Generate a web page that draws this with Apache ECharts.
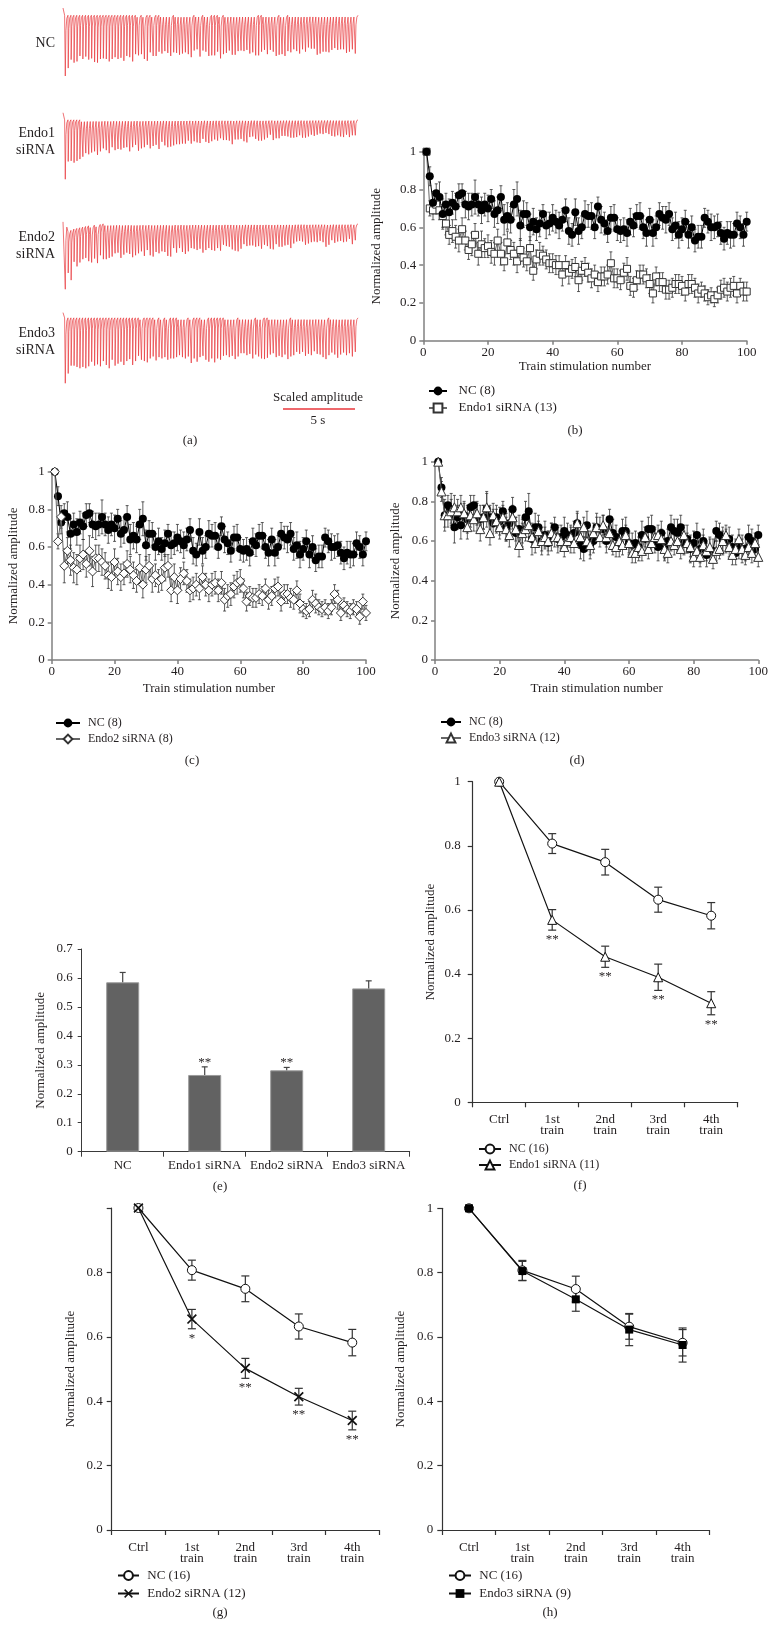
<!DOCTYPE html>
<html><head><meta charset="utf-8">
<script src="https://cdn.jsdelivr.net/npm/echarts@6/dist/echarts.min.js"></script>
<style>html,body{margin:0;padding:0;background:#fff}#c{width:776px;height:1629px}</style>
</head><body><div id="c"></div><script>
// ---------- DATA ----------
const ncMean = [1.00,0.87,0.73,0.78,0.76,0.67,0.72,0.68,0.73,0.71,
 0.77,0.78,0.72,0.71,0.72,0.76,0.72,0.69,0.72,0.70,
 0.75,0.67,0.69,0.76,0.64,0.66,0.64,0.72,0.75,0.61,
 0.67,0.67,0.60,0.63,0.59,0.62,0.67,0.61,0.62,0.65,
 0.63,0.61,0.64,0.69,0.58,0.56,0.68,0.58,0.60,0.67,
 0.66,0.66,0.60,0.71,0.64,0.62,0.58,0.65,0.65,0.59,
 0.58,0.59,0.57,0.63,0.61,0.66,0.66,0.60,0.57,0.64,
 0.57,0.60,0.67,0.65,0.64,0.67,0.59,0.61,0.56,0.59,
 0.63,0.56,0.60,0.53,0.55,0.55,0.65,0.63,0.60,0.60,
 0.61,0.57,0.54,0.57,0.56,0.56,0.62,0.60,0.56,0.63];
const ncErr = [0,0.05,0.06,0.05,0.08,0.08,0.06,0.07,0.06,0.07,
 0.06,0.05,0.07,0.07,0.06,0.09,0.06,0.07,0.06,0.07,
 0.05,0.07,0.07,0.06,0.08,0.07,0.07,0.08,0.09,0.08,
 0.07,0.06,0.07,0.07,0.06,0.07,0.05,0.07,0.06,0.07,
 0.06,0.07,0.06,0.06,0.07,0.06,0.07,0.07,0.06,0.07,
 0.06,0.07,0.06,0.05,0.07,0.06,0.06,0.06,0.07,0.06,
 0.06,0.06,0.07,0.07,0.06,0.06,0.07,0.06,0.07,0.06,
 0.07,0.06,0.06,0.06,0.07,0.06,0.06,0.07,0.07,0.06,
 0.06,0.07,0.06,0.06,0.06,0.06,0.05,0.06,0.07,0.06,
 0.06,0.06,0.06,0.06,0.07,0.06,0.06,0.06,0.06,0.05];
const endo1Mean = [1.00,0.70,0.69,0.72,0.69,0.66,0.62,0.56,0.58,0.55,
 0.53,0.59,0.53,0.48,0.51,0.56,0.46,0.51,0.49,0.50,
 0.47,0.46,0.53,0.46,0.42,0.52,0.48,0.46,0.42,0.48,
 0.44,0.42,0.49,0.37,0.43,0.46,0.45,0.43,0.41,0.41,
 0.40,0.40,0.35,0.40,0.36,0.38,0.39,0.32,0.37,0.39,
 0.36,0.33,0.35,0.31,0.34,0.34,0.35,0.41,0.33,0.33,
 0.32,0.36,0.38,0.29,0.28,0.32,0.35,0.35,0.33,0.30,
 0.25,0.34,0.31,0.31,0.27,0.27,0.28,0.30,0.30,0.29,
 0.26,0.30,0.30,0.28,0.25,0.27,0.25,0.23,0.24,0.22,
 0.24,0.27,0.28,0.26,0.28,0.29,0.25,0.29,0.26,0.26];
const endo1Err = [0,0.04,0.05,0.05,0.05,0.06,0.06,0.05,0.06,0.06,
 0.06,0.06,0.05,0.05,0.06,0.06,0.06,0.07,0.05,0.06,
 0.06,0.06,0.06,0.06,0.05,0.06,0.05,0.06,0.06,0.06,
 0.05,0.05,0.06,0.05,0.05,0.06,0.05,0.05,0.05,0.05,
 0.05,0.05,0.06,0.05,0.06,0.05,0.05,0.06,0.05,0.05,
 0.05,0.05,0.05,0.05,0.05,0.05,0.05,0.06,0.05,0.05,
 0.05,0.05,0.06,0.05,0.05,0.05,0.05,0.05,0.05,0.05,
 0.05,0.05,0.05,0.05,0.05,0.05,0.05,0.05,0.05,0.05,
 0.05,0.05,0.05,0.05,0.05,0.04,0.04,0.04,0.04,0.04,
 0.04,0.05,0.05,0.05,0.05,0.05,0.05,0.04,0.05,0.05];
const endo2Mean = [1.00,0.63,0.76,0.50,0.58,0.53,0.49,0.48,0.54,0.56,
 0.51,0.58,0.47,0.54,0.54,0.52,0.50,0.45,0.44,0.52,
 0.47,0.44,0.46,0.51,0.48,0.45,0.42,0.49,0.40,0.48,
 0.50,0.43,0.45,0.42,0.43,0.49,0.50,0.37,0.44,0.37,
 0.43,0.46,0.42,0.37,0.38,0.40,0.38,0.44,0.40,0.37,
 0.40,0.41,0.37,0.41,0.32,0.34,0.35,0.39,0.41,0.42,
 0.38,0.31,0.34,0.33,0.33,0.35,0.34,0.38,0.32,0.34,
 0.38,0.39,0.31,0.35,0.35,0.33,0.32,0.37,0.30,0.27,
 0.26,0.27,0.32,0.30,0.28,0.27,0.28,0.26,0.28,0.35,
 0.32,0.25,0.29,0.27,0.26,0.28,0.27,0.23,0.31,0.25];
const endo2Err = [0,0.04,0.06,0.09,0.07,0.08,0.08,0.08,0.07,0.08,
 0.07,0.08,0.08,0.07,0.07,0.07,0.07,0.07,0.07,0.07,
 0.07,0.07,0.06,0.07,0.07,0.07,0.06,0.07,0.07,0.07,
 0.06,0.07,0.06,0.06,0.06,0.07,0.06,0.06,0.07,0.07,
 0.06,0.06,0.06,0.06,0.06,0.06,0.06,0.06,0.06,0.06,
 0.06,0.06,0.06,0.06,0.06,0.06,0.06,0.06,0.06,0.06,
 0.05,0.05,0.05,0.05,0.05,0.05,0.05,0.05,0.05,0.05,
 0.05,0.05,0.05,0.05,0.05,0.05,0.05,0.05,0.05,0.04,
 0.04,0.04,0.05,0.05,0.04,0.04,0.04,0.04,0.04,0.05,
 0.05,0.04,0.04,0.04,0.04,0.04,0.04,0.04,0.04,0.04];
const endo3Mean = [1.00,0.85,0.73,0.73,0.75,0.77,0.75,0.77,0.74,0.67,
 0.73,0.71,0.74,0.66,0.72,0.77,0.64,0.73,0.70,0.67,
 0.72,0.66,0.63,0.72,0.66,0.58,0.64,0.66,0.68,0.62,
 0.59,0.65,0.60,0.62,0.60,0.64,0.62,0.62,0.60,0.57,
 0.60,0.62,0.59,0.69,0.62,0.67,0.60,0.58,0.64,0.67,
 0.62,0.68,0.62,0.64,0.58,0.57,0.60,0.58,0.63,0.59,
 0.54,0.54,0.57,0.55,0.62,0.56,0.59,0.62,0.63,0.61,
 0.56,0.54,0.60,0.58,0.60,0.56,0.63,0.59,0.57,0.52,
 0.55,0.52,0.58,0.55,0.57,0.51,0.55,0.56,0.60,0.63,
 0.57,0.53,0.56,0.61,0.56,0.53,0.57,0.54,0.59,0.52];
const endo3Err = [0,0.05,0.08,0.06,0.06,0.06,0.06,0.06,0.06,0.06,
 0.06,0.06,0.06,0.06,0.06,0.07,0.06,0.06,0.06,0.06,
 0.06,0.06,0.06,0.06,0.06,0.06,0.05,0.06,0.06,0.05,
 0.05,0.05,0.05,0.05,0.05,0.05,0.05,0.05,0.05,0.05,
 0.05,0.05,0.05,0.05,0.05,0.05,0.05,0.05,0.05,0.05,
 0.05,0.05,0.05,0.05,0.05,0.05,0.05,0.05,0.05,0.05,
 0.05,0.05,0.05,0.05,0.05,0.05,0.05,0.05,0.05,0.05,
 0.05,0.05,0.05,0.05,0.05,0.05,0.05,0.05,0.05,0.05,
 0.05,0.05,0.05,0.05,0.05,0.05,0.05,0.05,0.05,0.05,
 0.05,0.05,0.05,0.05,0.05,0.05,0.05,0.05,0.05,0.05];

const traceLabels = ['NC', 'Endo1\nsiRNA', 'Endo2\nsiRNA', 'Endo3\nsiRNA'];
// baseline sag of the Endo2 example trace after the first stimulus (fraction of first response)
const endo2TraceSag = [0, 0.12, 0.10, 0.08, 0.07, 0.06, 0.05, 0.04, 0.03, 0.03, 0.02, 0.02, 0.01];

const barCategories = ['NC', 'Endo1 siRNA', 'Endo2 siRNA', 'Endo3 siRNA'];
const barValues = [0.585, 0.265, 0.281, 0.564];
const barErrors = [0.034, 0.028, 0.010, 0.026];
const barStars = ['', '**', '**', ''];

const trainCategories = ['Ctrl', '1st\ntrain', '2nd\ntrain', '3rd\ntrain', '4th\ntrain'];
const ncTrainMean = [1, 0.807, 0.749, 0.632, 0.582];
const ncTrainErr = [0, 0.031, 0.040, 0.039, 0.041];
const endo1TrainMean = [1, 0.569, 0.454, 0.390, 0.309];
const endo1TrainErr = [0, 0.032, 0.033, 0.041, 0.036];
const endo1Stars = ['', '**', '**', '**', '**'];
const endo2TrainMean = [1, 0.655, 0.502, 0.414, 0.340];
const endo2TrainErr = [0, 0.030, 0.031, 0.026, 0.029];
const endo2Stars = ['', '*', '**', '**', '**'];
const endo3TrainMean = [1, 0.805, 0.717, 0.623, 0.575];
const endo3TrainErr = [0, 0.030, 0.037, 0.050, 0.053];

// ---------- HELPERS ----------
const FONT = '"Liberation Serif","DejaVu Serif",serif';
const TXT = '#231f20';
const RED = '#e8363b';

function buildTrace(depths, sag, startLevel) {
  const pts = [[-0.7, startLevel], [-0.15, startLevel], [-0.15, 0]];
  depths.forEach((d, i) => {
    const b = -((sag && sag[i]) || 0);
    pts.push([i, b], [i + 0.08, b - d], [i + 0.3, b - 0.25 * d], [i + 0.6, b - 0.05 * d]);
  });
  pts.push([100, 0]);
  return pts;
}
function xy(arr) { return arr.map((v, i) => [i + 1, v]); }
function xye(m, e) { return m.map((v, i) => [i + 1, v, e[i]]); }
function cye(m, e) { return m.map((v, i) => [i, v, e[i]]); }

function errBars(o) {
  return function (params, api) {
    const x = api.value(0), m = api.value(1), e = api.value(2);
    if (!e) return null;
    const t = api.coord([x, m + e]);
    const b = api.coord([x, o.up ? m : m - e]);
    const st = { stroke: o.color, lineWidth: o.width, fill: null };
    const ch = [
      { type: 'line', shape: { x1: t[0], y1: t[1], x2: b[0], y2: b[1] }, style: st },
      { type: 'line', shape: { x1: t[0] - o.cap, y1: t[1], x2: t[0] + o.cap, y2: t[1] }, style: st }
    ];
    if (!o.up) ch.push({ type: 'line', shape: { x1: b[0] - o.cap, y1: b[1], x2: b[0] + o.cap, y2: b[1] }, style: st });
    return { type: 'group', children: ch };
  };
}
function stars(labels, above) {
  return function (params, api) {
    const t = labels[params.dataIndex];
    if (!t) return null;
    const p = api.coord([api.value(0), api.value(1) + (above ? api.value(2) : -api.value(2))]);
    return { type: 'text', x: p[0], y: p[1] + (above ? 2 : 3),
      style: { text: t, font: '13px ' + FONT, fill: TXT, align: 'center', textAlign: 'center',
        verticalAlign: above ? 'bottom' : 'top', textVerticalAlign: above ? 'bottom' : 'top' } };
  };
}

const lab = (extra) => Object.assign({ color: TXT, fontFamily: FONT, fontSize: 13 }, extra || {});

// ---------- GRIDS ----------
const grids = [
  { left: 63, top: 8, width: 295, height: 68 },
  { left: 63, top: 112.7, width: 295, height: 66.6 },
  { left: 63, top: 216, width: 295, height: 73.3 },
  { left: 63, top: 310, width: 295, height: 73.3 },
  { left: 423.3, top: 151.7, width: 323.4, height: 189 },   // b
  { left: 51.7, top: 471.7, width: 314.3, height: 188.3 },  // c
  { left: 435, top: 461.7, width: 323.3, height: 198.3 },   // d
  { left: 81.7, top: 949, width: 328, height: 202.7 },      // e
  { left: 472.7, top: 781.7, width: 265, height: 320.6 },   // f
  { left: 111.7, top: 1208, width: 267.3, height: 322 },    // g
  { left: 442.3, top: 1208.3, width: 267, height: 321.7 }   // h
].map(g => Object.assign({ outerBoundsMode: 'none', containLabel: false }, g));

const xAxes = [], yAxes = [];
for (let i = 0; i < 4; i++) {
  xAxes.push({ type: 'value', gridIndex: i, min: -0.7, max: 100, show: false });
  yAxes.push({ type: 'value', gridIndex: i, min: -1, max: 0.12, show: false });
}
const grayLine = { lineStyle: { color: '#808080', width: 1.5 } };
[[4, 40], [5, 32], [6, 33]].forEach(([gi, gap]) => {
  xAxes.push({ type: 'value', gridIndex: gi, min: 0, max: 100, interval: 20,
    axisLine: Object.assign({ show: true, onZero: false }, grayLine),
    axisTick: Object.assign({ show: true, length: 4 }, grayLine),
    splitLine: { show: false }, axisLabel: lab({ margin: 5 }),
    name: 'Train stimulation number', nameLocation: 'middle', nameGap: gi === 4 ? 18 : 22,
    nameTextStyle: lab() });
  yAxes.push({ type: 'value', gridIndex: gi, min: 0, max: 1, interval: 0.2,
    axisLine: Object.assign({ show: true }, grayLine),
    axisTick: Object.assign({ show: true, length: 4 }, grayLine),
    splitLine: { show: false }, axisLabel: lab({ margin: 7 }),
    name: 'Normalized amplitude', nameLocation: 'middle', nameGap: gap, nameTextStyle: lab() });
});
// e
xAxes.push({ type: 'category', gridIndex: 7, data: barCategories,
  axisLine: { show: true, lineStyle: { color: '#3a3a3a', width: 1 } },
  axisTick: { show: true, length: 5, alignWithLabel: false, lineStyle: { color: '#3a3a3a' } },
  axisLabel: lab({ margin: 7, interval: 0 }) });
yAxes.push({ type: 'value', gridIndex: 7, min: 0, max: 0.7, interval: 0.1,
  axisLine: { show: true, lineStyle: { color: '#3a3a3a', width: 1 } },
  axisTick: { show: true, length: 4, lineStyle: { color: '#3a3a3a' } },
  splitLine: { show: false }, axisLabel: lab({ margin: 9 }),
  name: 'Normalized amplitude', nameLocation: 'middle', nameGap: 35, nameTextStyle: lab() });
// f g h
[[8, 36, 12, false], [9, 35, 9, true], [10, 35, 9, false]].forEach(([gi, gap, mg, hideOne]) => {
  xAxes.push({ type: 'category', gridIndex: gi, data: trainCategories, boundaryGap: true,
    axisLine: { show: true, lineStyle: { color: '#333', width: 1.2 } },
    axisTick: { show: true, length: 5, alignWithLabel: false, lineStyle: { color: '#333', width: 1.2 } },
    axisLabel: lab({ margin: 12, interval: 0, lineHeight: 11 }) });
  yAxes.push({ type: 'value', gridIndex: gi, min: 0, max: 1, interval: 0.2,
    axisLine: { show: true, lineStyle: { color: '#333', width: 1.2 } },
    axisTick: { show: true, length: 5, lineStyle: { color: '#333', width: 1.2 } },
    splitLine: { show: false },
    axisLabel: lab({ margin: mg, formatter: v => (hideOne && v === 1) ? '' : String(+v.toFixed(1)) }),
    name: 'Normalized amplitude', nameLocation: 'middle', nameGap: gap, nameTextStyle: lab() });
});

// ---------- SERIES ----------
const series = [];
const traceStart = [0.12, 0.12, 0.03, 0.08];
[ncMean, endo1Mean, endo2Mean, endo3Mean].forEach((arr, i) => {
  series.push({ type: 'line', xAxisIndex: i, yAxisIndex: i,
    data: buildTrace(arr, i === 2 ? endo2TraceSag : null, traceStart[i]), symbol: 'none',
    silent: true, lineStyle: { color: RED, width: 0.7 } });
});
const ebSmall = errBars({ color: '#333', width: 0.8, cap: 1.5 });
function ncLine(ax) {
  return { type: 'line', name: 'NC (8)', xAxisIndex: ax, yAxisIndex: ax, data: xy(ncMean),
    symbol: 'circle', symbolSize: 8, itemStyle: { color: '#000' }, lineStyle: { color: '#000', width: 1 }, z: 4 };
}
function eb(ax, m, e) {
  return { type: 'custom', xAxisIndex: ax, yAxisIndex: ax, data: xye(m, e), renderItem: ebSmall,
    encode: { x: 0, y: 1 }, z: 2, silent: true };
}
// b
series.push(eb(4, endo1Mean, endo1Err), eb(4, ncMean, ncErr),
  { type: 'line', name: 'Endo1 siRNA (13)', xAxisIndex: 4, yAxisIndex: 4, data: xy(endo1Mean),
    symbol: 'rect', symbolSize: 7, itemStyle: { color: '#fff', borderColor: '#333', borderWidth: 1 },
    lineStyle: { color: '#666', width: 1 }, z: 3 },
  ncLine(4));
// c
series.push(eb(5, ncMean, ncErr), eb(5, endo2Mean, endo2Err), ncLine(5),
  { type: 'line', name: 'Endo2 siRNA (8)', xAxisIndex: 5, yAxisIndex: 5, data: xy(endo2Mean),
    symbol: 'diamond', symbolSize: 9, itemStyle: { color: '#fff', borderColor: '#333', borderWidth: 1 },
    lineStyle: { color: '#666', width: 1 }, z: 5 });
// d
series.push(eb(6, ncMean, ncErr), eb(6, endo3Mean, endo3Err), ncLine(6),
  { type: 'line', name: 'Endo3 siRNA (12)', xAxisIndex: 6, yAxisIndex: 6, data: xy(endo3Mean),
    symbol: 'triangle', symbolSize: 9, itemStyle: { color: '#fff', borderColor: '#333', borderWidth: 1 },
    lineStyle: { color: '#666', width: 1 }, z: 5 });
// e
series.push({ type: 'bar', xAxisIndex: 7, yAxisIndex: 7, data: barValues, barWidth: 33,
  itemStyle: { color: '#626262', borderColor: '#9a9a9a', borderWidth: 1 }, z: 2 });
series.push({ type: 'custom', xAxisIndex: 7, yAxisIndex: 7, data: cye(barValues, barErrors), encode: { x: 0, y: 1 },
  renderItem: errBars({ color: '#444', width: 1.2, cap: 3, up: true }), z: 3, silent: true });
series.push({ type: 'custom', xAxisIndex: 7, yAxisIndex: 7, data: cye(barValues, barErrors), encode: { x: 0, y: 1 },
  renderItem: stars(barStars, true), z: 4, silent: true });
// f g h
const ebBig = errBars({ color: '#333', width: 1.2, cap: 4 });
function ncTrain(ax) {
  return { type: 'line', name: 'NC (16)', xAxisIndex: ax, yAxisIndex: ax, data: ncTrainMean,
    symbol: 'circle', symbolSize: 9, itemStyle: { color: '#fff', borderColor: '#111', borderWidth: 1 },
    lineStyle: { color: '#111', width: 1.2 }, z: 4 };
}
function ebT(ax, m, e) {
  return { type: 'custom', xAxisIndex: ax, yAxisIndex: ax, data: cye(m, e), encode: { x: 0, y: 1 },
    renderItem: ebBig, z: 2, silent: true };
}
function starT(ax, m, e, l) {
  return { type: 'custom', xAxisIndex: ax, yAxisIndex: ax, data: cye(m, e), encode: { x: 0, y: 1 },
    renderItem: stars(l, false), z: 6, silent: true };
}
const XPATH = 'path://M0,1.2 L1.2,0 L10,8.8 L8.8,10 Z M8.8,0 L10,1.2 L1.2,10 L0,8.8 Z';
series.push(ebT(8, ncTrainMean, ncTrainErr), ebT(8, endo1TrainMean, endo1TrainErr), ncTrain(8),
  { type: 'line', name: 'Endo1 siRNA (11)', xAxisIndex: 8, yAxisIndex: 8, data: endo1TrainMean,
    symbol: 'triangle', symbolSize: 9, itemStyle: { color: '#fff', borderColor: '#111', borderWidth: 1 },
    lineStyle: { color: '#111', width: 1.2 }, z: 5 },
  starT(8, endo1TrainMean, endo1TrainErr, endo1Stars));
series.push(ebT(9, ncTrainMean, ncTrainErr), ebT(9, endo2TrainMean, endo2TrainErr), ncTrain(9),
  { type: 'line', name: 'Endo2 siRNA (12)', xAxisIndex: 9, yAxisIndex: 9, data: endo2TrainMean,
    symbol: XPATH, symbolSize: 10, itemStyle: { color: '#111' },
    lineStyle: { color: '#111', width: 1.2 }, z: 5 },
  starT(9, endo2TrainMean, endo2TrainErr, endo2Stars));
series.push(ebT(10, ncTrainMean, ncTrainErr), ebT(10, endo3TrainMean, endo3TrainErr), ncTrain(10),
  { type: 'line', name: 'Endo3 siRNA (9)', xAxisIndex: 10, yAxisIndex: 10, data: endo3TrainMean,
    symbol: 'rect', symbolSize: 8, itemStyle: { color: '#000' },
    lineStyle: { color: '#111', width: 1.2 }, z: 5 });

// ---------- LEGENDS ----------
function legend(left, top, names, fs, iw, gap, pad) {
  return { left, top, orient: 'vertical', align: 'left', itemWidth: iw, itemHeight: 11, itemGap: gap,
    selectedMode: false, textStyle: lab({ fontSize: fs }), formatter: n => pad + n, data: names };
}
const legends = [
  legend(423, 379.5, ['NC (8)', 'Endo1 siRNA (13)'], 13, 18, 4, '  '),
  legend(50, 712, ['NC (8)', 'Endo2 siRNA (8)'], 12, 24, 4, ' '),
  legend(435, 711, ['NC (8)', 'Endo3 siRNA (12)'], 12, 20, 4, ' '),
  legend(473, 1138, ['NC (16)', 'Endo1 siRNA (11)'], 12, 22, 4, ' '),
  legend(112, 1564, ['NC (16)', 'Endo2 siRNA (12)'], 13, 21, 5, ' '),
  legend(443, 1564, ['NC (16)', 'Endo3 siRNA (9)'], 13, 22, 5, ' ')
];

// ---------- GRAPHIC TEXT ----------
function txt(x, y, s, align, size) {
  return { type: 'text', x: x, y: y, silent: true,
    style: { text: s, font: (size || 14) + 'px ' + FONT, fill: TXT, lineHeight: 17,
      align: align || 'center', textAlign: align || 'center', verticalAlign: 'middle', textVerticalAlign: 'middle' } };
}
const traceLabelY = [43, 141.5, 246, 341.5];
const graphics = traceLabels.map((s, i) => txt(55, traceLabelY[i], s, 'right', 14));
graphics.push(
  txt(318, 398, 'Scaled amplitude', 'center', 13),
  { type: 'line', silent: true, shape: { x1: 283, y1: 409, x2: 355, y2: 409 }, style: { stroke: RED, lineWidth: 1.5 } },
  txt(318, 421, '5 s', 'center', 13),
  txt(190, 441, '(a)', 'center', 13), txt(575, 431, '(b)', 'center', 13),
  txt(192, 761, '(c)', 'center', 13), txt(577, 761, '(d)', 'center', 13),
  txt(220, 1187, '(e)', 'center', 13), txt(580, 1186, '(f)', 'center', 13),
  txt(220, 1613, '(g)', 'center', 13), txt(550, 1613, '(h)', 'center', 13)
);

const chart = echarts.init(document.getElementById('c'), null, { renderer: 'canvas', width: 776, height: 1629 });
chart.setOption({
  backgroundColor: '#fff', animation: false,
  grid: grids, xAxis: xAxes, yAxis: yAxes, series: series, legend: legends,
  graphic: { elements: graphics }
});
</script></body></html>
